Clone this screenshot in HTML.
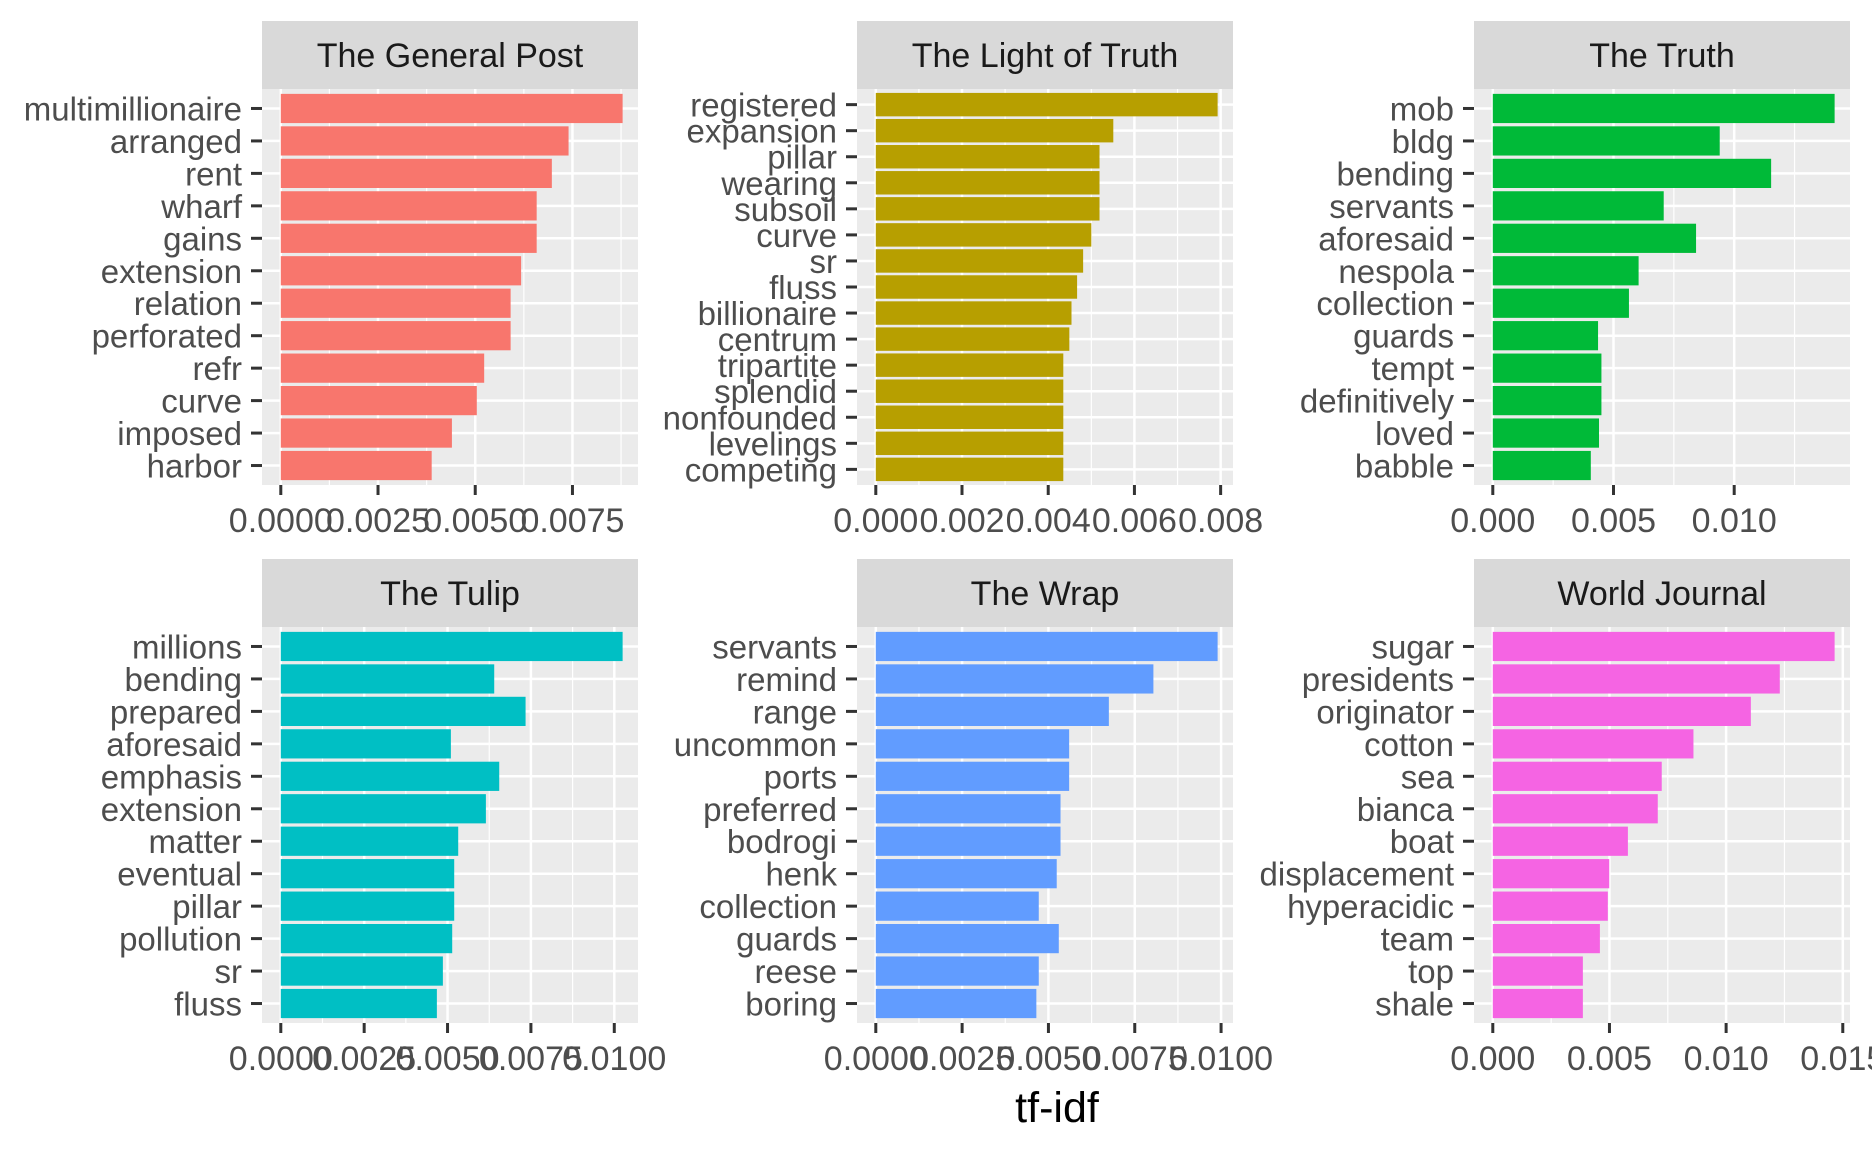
<!DOCTYPE html>
<html><head><meta charset="utf-8"><style>
html,body{margin:0;padding:0;background:#fff;}
svg{display:block;font-family:"Liberation Sans",Arial,sans-serif;}
</style></head><body>
<svg id="chart" width="1872" height="1152" viewBox="0 0 1872 1152" xmlns="http://www.w3.org/2000/svg">
<text x="1057" y="1122" font-size="43" fill="#000" text-anchor="middle">tf-idf</text>
</svg>
<script>
const titles = ["The General Post","The Light of Truth","The Truth","The Tulip","The Wrap","World Journal"];
const colors = ["#F8766D","#B79F00","#00BA38","#00BFC4","#619CFF","#F564E3"];
const words1 = ["multimillionaire","arranged","rent","wharf","gains","extension","relation","perforated","refr","curve","imposed","harbor"];
const values1 = [0.00879,0.0074,0.00697,0.00658,0.00658,0.00618,0.00591,0.00591,0.00523,0.00504,0.0044,0.00388];
const words2 = ["registered","expansion","pillar","wearing","subsoil","curve","sr","fluss","billionaire","centrum","tripartite","splendid","nonfounded","levelings","competing"];
const values2 = [0.00793,0.00551,0.00519,0.00519,0.00519,0.005,0.00481,0.00467,0.00454,0.00449,0.00435,0.00435,0.00435,0.00435,0.00435];
const words3 = ["mob","bldg","bending","servants","aforesaid","nespola","collection","guards","tempt","definitively","loved","babble"];
const values3 = [0.01416,0.0094,0.01153,0.00708,0.00842,0.00604,0.00564,0.00436,0.0045,0.0045,0.0044,0.00406];
const words4 = ["millions","bending","prepared","aforesaid","emphasis","extension","matter","eventual","pillar","pollution","sr","fluss"];
const values4 = [0.01025,0.0064,0.00734,0.0051,0.00655,0.00615,0.00532,0.0052,0.0052,0.00514,0.00486,0.00468];
const words5 = ["servants","remind","range","uncommon","ports","preferred","bodrogi","henk","collection","guards","reese","boring"];
const values5 = [0.0099,0.00804,0.00675,0.0056,0.0056,0.00535,0.00535,0.00524,0.00472,0.0053,0.00472,0.00465];
const words6 = ["sugar","presidents","originator","cotton","sea","bianca","boat","displacement","hyperacidic","team","top","shale"];
const values6 = [0.01465,0.0123,0.01106,0.0086,0.00724,0.00707,0.00579,0.00499,0.00493,0.00459,0.00386,0.00386];
const ticks1 = [0,0.0025,0.005,0.0075];
const tickLabels1 = ["0.0000","0.0025","0.0050","0.0075"];
const ticks2 = [0,0.002,0.004,0.006,0.008];
const tickLabels2 = ["0.000","0.002","0.004","0.006","0.008"];
const ticks3 = [0,0.005,0.01];
const tickLabels3 = ["0.000","0.005","0.010"];
const ticks4 = [0,0.0025,0.005,0.0075,0.01];
const tickLabels4 = ["0.0000","0.0025","0.0050","0.0075","0.0100"];
const ticks5 = [0,0.0025,0.005,0.0075,0.01];
const tickLabels5 = ["0.0000","0.0025","0.0050","0.0075","0.0100"];
const ticks6 = [0,0.005,0.01,0.015];
const tickLabels6 = ["0.000","0.005","0.010","0.015"];

const allWords=[words1,words2,words3,words4,words5,words6];
const allVals=[values1,values2,values3,values4,values5,values6];
const allTicks=[ticks1,ticks2,ticks3,ticks4,ticks5,ticks6];
const allTickLabels=[tickLabels1,tickLabels2,tickLabels3,tickLabels4,tickLabels5,tickLabels6];

const NS="http://www.w3.org/2000/svg";
const svg=document.getElementById('chart');
function mk(tag,attrs,parent){const e=document.createElementNS(NS,tag);for(const k in attrs)e.setAttribute(k,attrs[k]);(parent||svg).appendChild(e);return e;}
const colX=[262,857,1474];
const PW=376;
const rowStrip=[21,559];
const rowPlot=[89,627];
const PH=396;

for(let p=0;p<6;p++){
  const cx=colX[p%3], r=Math.floor(p/3);
  const top=rowPlot[r], st=rowStrip[r];
  const words=allWords[p], vals=allVals[p], ticks=allTicks[p], tl=allTickLabels[p];
  const g=mk('g',{});
  
  
  const strip=mk('rect',{x:cx,y:st,width:PW,height:top-st,fill:'#D9D9D9'},g);
  
  
  const stt=mk('text',{x:cx+PW/2,y:(st+top)/2+12,'font-size':34,fill:'#1A1A1A','text-anchor':'middle'},g);
  stt.textContent=titles[p];
  
  
  const bg=mk('rect',{x:cx,y:top,width:PW,height:PH,fill:'#EBEBEB'},g);
  
  
  const vmax=Math.max(...vals);
  const k=PW/(1.1*vmax);
  const X=v=>cx+0.05*PW+v*k;
  const n=words.length;
  const band=PH/(n-1+1.2);
  const Y=i=>top+band*(0.6+i);
  const step=ticks[1]-ticks[0];
  for(let t=ticks[0]+step/2;t<=vmax*1.06;t+=step){
    const x=X(t); if(x>cx+PW) continue;
    mk('line',{x1:x,x2:x,y1:top,y2:top+PH,stroke:'#fff','stroke-width':1.2},g);
  }
  ticks.forEach((t,i)=>{
    const x=X(t);
    if(x<=cx+PW+1) mk('line',{x1:x,x2:x,y1:top,y2:top+PH,stroke:'#fff','stroke-width':2.5},g);
    mk('line',{x1:x,x2:x,y1:top+PH,y2:top+PH+10,stroke:'#333','stroke-width':3},g);
    const lab=mk('text',{x:x,y:top+PH+47,'font-size':34,fill:'#4D4D4D','text-anchor':'middle'},g);
    lab.textContent=tl[i];
    
    
  });
  words.forEach((w,i)=>{
    const y=Y(i);
    mk('line',{x1:cx,x2:cx+PW,y1:y,y2:y,stroke:'#fff','stroke-width':2.5},g);
  });
  words.forEach((w,i)=>{
    const y=Y(i);
    const b=mk('rect',{x:X(0),y:y-band*0.45,width:X(vals[i])-X(0),height:band*0.9,fill:colors[p]},g);
    
    
    mk('line',{x1:cx-11,x2:cx,y1:y,y2:y,stroke:'#333','stroke-width':3},g);
    const lab=mk('text',{x:cx-20,y:y+12,'font-size':33,fill:'#4D4D4D','text-anchor':'end'},g);
    lab.textContent=w;
    
    
  });
}
</script>
</body></html>
